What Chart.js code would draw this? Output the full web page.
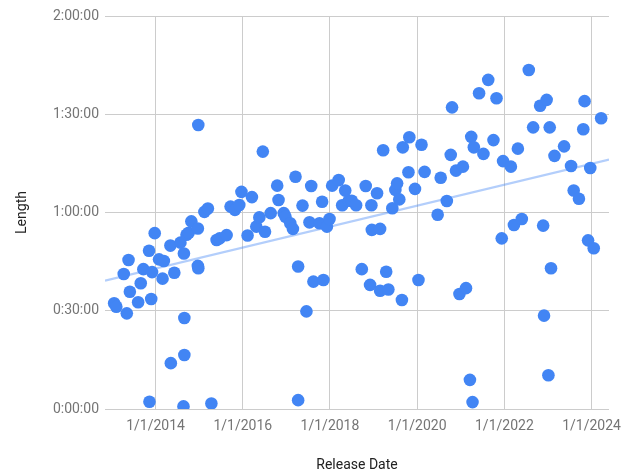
<!DOCTYPE html>
<html>
<head>
<meta charset="utf-8">
<script src="https://cdn.jsdelivr.net/npm/chart.js@4/dist/chart.umd.min.js"></script>
<style>
  html, body { margin: 0; padding: 0; background: #ffffff; }
  #wrap { position: relative; width: 631px; height: 474px; }
</style>
</head>
<body>
<div id="wrap"><canvas id="c" width="631" height="474"></canvas></div>
<script>
// Release date as decimal year, episode length in minutes
const releaseYear = [
  2013.05, 2013.10, 2013.27, 2013.34, 2013.38, 2013.41, 2013.60, 2013.66, 2013.72, 2013.85,
  2013.86, 2013.90, 2013.92, 2013.98, 2014.08, 2014.16, 2014.19, 2014.34, 2014.35, 2014.43,
  2014.57, 2014.64, 2014.65, 2014.66, 2014.66, 2014.71, 2014.76, 2014.82, 2014.97, 2014.97,
  2014.98, 2014.98, 2015.12, 2015.20, 2015.28, 2015.40, 2015.47, 2015.63, 2015.72, 2015.82,
  2015.92, 2015.97, 2016.11, 2016.21, 2016.31, 2016.38, 2016.46, 2016.51, 2016.64, 2016.79,
  2016.82, 2016.94, 2016.98, 2017.09, 2017.15, 2017.21, 2017.27, 2017.27, 2017.37, 2017.46,
  2017.53, 2017.57, 2017.62, 2017.76, 2017.82, 2017.85, 2017.93, 2017.99, 2018.05, 2018.20,
  2018.28, 2018.35, 2018.43, 2018.50, 2018.60, 2018.73, 2018.82, 2018.92, 2018.95, 2018.96,
  2019.08, 2019.15, 2019.15, 2019.22, 2019.29, 2019.34, 2019.43, 2019.50, 2019.54, 2019.59,
  2019.65, 2019.67, 2019.80, 2019.82, 2019.95, 2020.03, 2020.10, 2020.17, 2020.47, 2020.54,
  2020.68, 2020.77, 2020.80, 2020.89, 2020.97, 2021.05, 2021.12, 2021.21, 2021.24, 2021.27,
  2021.30, 2021.42, 2021.52, 2021.63, 2021.75, 2021.82, 2021.94, 2021.97, 2022.15, 2022.22,
  2022.31, 2022.40, 2022.56, 2022.66, 2022.82, 2022.89, 2022.91, 2022.97, 2023.01, 2023.04,
  2023.07, 2023.15, 2023.37, 2023.53, 2023.59, 2023.71, 2023.81, 2023.84, 2023.92, 2023.97,
  2024.05, 2024.22
];
const lengthMinutes = [
  32.3, 31.2, 41.2, 29.2, 45.5, 35.8, 32.6, 38.4, 42.7, 48.3,
  2.2, 33.6, 41.8, 53.7, 45.7, 39.8, 45.2, 49.9, 14.0, 41.6,
  50.8, 0.8, 47.5, 27.8, 16.5, 53.2, 53.8, 57.3, 55.1, 43.7,
  43.0, 86.7, 60.2, 61.2, 1.7, 51.6, 52.1, 53.1, 61.8, 60.8,
  62.3, 66.3, 53.0, 64.7, 55.7, 58.5, 78.6, 54.1, 59.8, 68.2,
  63.8, 59.8, 58.7, 56.7, 55.0, 70.9, 43.5, 2.7, 62.1, 29.8,
  57.0, 68.1, 38.9, 56.7, 63.3, 39.4, 55.7, 58.0, 68.2, 69.9,
  62.2, 66.7, 63.6, 63.6, 62.2, 42.7, 68.1, 37.9, 62.2, 54.7,
  65.9, 55.0, 36.1, 79.0, 41.9, 36.5, 61.3, 66.9, 68.9, 64.0,
  33.3, 79.9, 72.3, 83.0, 67.2, 39.4, 80.7, 72.4, 59.3, 70.6,
  63.5, 77.6, 92.1, 72.8, 35.1, 74.0, 36.9, 8.9, 83.1, 2.1,
  79.9, 96.4, 77.9, 100.5, 82.1, 94.9, 52.1, 75.7, 74.0, 56.2,
  79.5, 58.0, 103.5, 86.0, 92.6, 56.0, 28.5, 94.4, 10.3, 86.0,
  43.0, 77.3, 80.2, 74.2, 66.7, 64.2, 85.4, 94.0, 51.5, 73.6,
  49.1, 88.8
];
const xTickYears = [2014, 2016, 2018, 2020, 2022, 2024];
const yTickMinutes = [0, 30, 60, 90, 120];
const xRange = [2012.84, 2024.40];

const points = releaseYear.map((x, i) => ({ x: x, y: lengthMinutes[i] }));

// Linear trendline (least squares) over the data
const n = points.length;
let sx = 0, sy = 0, sxx = 0, sxy = 0;
points.forEach(p => { sx += p.x; sy += p.y; sxx += p.x * p.x; sxy += p.x * p.y; });
const slope = (n * sxy - sx * sy) / (n * sxx - sx * sx);
const intercept = (sy - slope * sx) / n;
const trend = xRange.map(x => ({ x: x, y: intercept + slope * x }));

function fmtDuration(m) {
  const h = Math.floor(m / 60);
  const mm = Math.round(m % 60);
  return h + ':' + String(mm).padStart(2, '0') + ':00';
}

const FONT = 'Roboto';
new Chart(document.getElementById('c'), {
  type: 'scatter',
  data: {
    datasets: [
      {
        label: 'Length',
        data: points,
        backgroundColor: '#4285f4',
        borderColor: '#4285f4',
        borderWidth: 0,
        pointRadius: 6.3,
        pointHoverRadius: 6.3
      },
      {
        label: 'Trend',
        data: trend,
        showLine: true,
        borderColor: 'rgba(66,133,244,0.4)',
        borderWidth: 2.2,
        pointRadius: 0,
        fill: false
      }
    ]
  },
  options: {
    responsive: false,
    animation: false,
    devicePixelRatio: 1,
    layout: { padding: { top: 16, right: 22, left: 0, bottom: 0 } },
    plugins: { legend: { display: false }, tooltip: { enabled: false } },
    scales: {
      x: {
        type: 'linear',
        min: xRange[0],
        max: xRange[1],
        afterBuildTicks: s => { s.ticks = xTickYears.map(v => ({ value: v })); },
        afterFit: s => { s.height = 65; },
        border: { display: false },
        grid: { color: '#cccccc', lineWidth: 1, drawTicks: false },
        ticks: {
          padding: 9,
          color: '#757575',
          font: { family: FONT, size: 14 },
          maxRotation: 0,
          autoSkip: false,
          callback: v => '1/1/' + v
        },
        title: {
          display: true,
          text: 'Release Date',
          color: '#222222',
          font: { family: FONT, size: 14 },
          padding: { top: 0, bottom: 0 }
        }
      },
      y: {
        type: 'linear',
        min: 0,
        max: 120,
        afterBuildTicks: s => { s.ticks = yTickMinutes.map(v => ({ value: v })); },
        afterFit: s => { s.width = 105; },
        border: { display: false },
        grid: { color: '#cccccc', lineWidth: 1, drawTicks: false },
        ticks: {
          padding: 6,
          color: '#757575',
          font: { family: FONT, size: 14 },
          callback: v => fmtDuration(v)
        },
        title: {
          display: true,
          text: 'Length',
          color: '#222222',
          font: { family: FONT, size: 14 },
          padding: { top: 14, bottom: 0 }
        }
      }
    }
  }
});
</script>
</body>
</html>
